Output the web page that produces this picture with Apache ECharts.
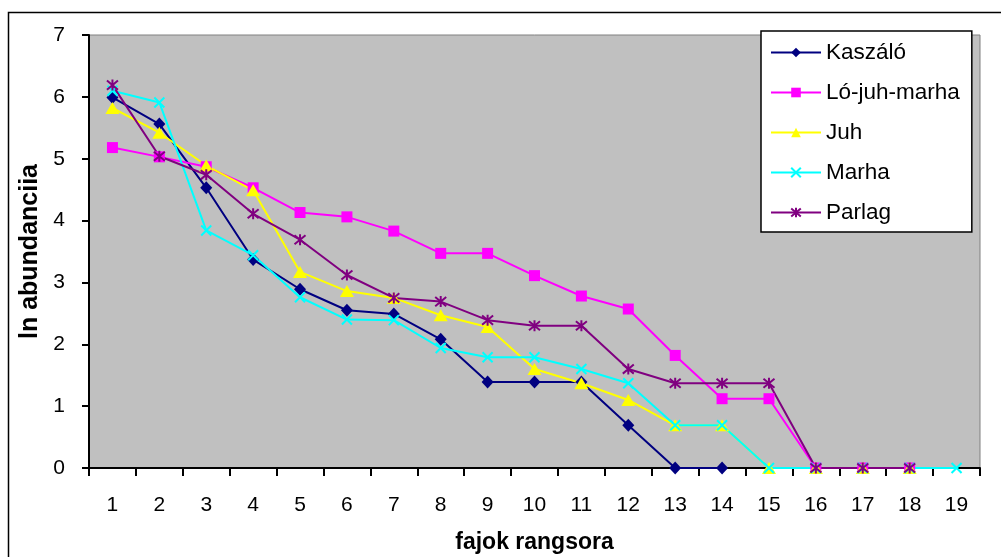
<!DOCTYPE html>
<html>
<head>
<meta charset="utf-8">
<script src="https://cdn.jsdelivr.net/npm/echarts@6/dist/echarts.min.js"></script>
<style>
  html, body { margin: 0; padding: 0; background: #ffffff; }
  #chart { width: 1001px; height: 557px; }
</style>
</head>
<body>
<div id="chart"></div>
<script>
// Rank of species (x) and log abundance for each grazing treatment
const ranks = ['1','2','3','4','5','6','7','8','9','10','11','12','13','14','15','16','17','18','19'];
const kaszalo    = [5.99, 5.56, 4.53, 3.37, 2.89, 2.55, 2.49, 2.08, 1.39, 1.39, 1.39, 0.69, 0, 0];
const loJuhMarha = [5.18, 5.03, 4.87, 4.53, 4.13, 4.06, 3.83, 3.47, 3.47, 3.11, 2.78, 2.57, 1.82, 1.12, 1.12, 0, 0, 0];
const juh        = [5.82, 5.42, 4.89, 4.49, 3.17, 2.86, 2.75, 2.47, 2.28, 1.60, 1.37, 1.10, 0.69, 0.69, 0, 0, 0, 0];
const marha      = [6.10, 5.91, 3.84, 3.44, 2.76, 2.40, 2.39, 1.94, 1.79, 1.79, 1.60, 1.37, 0.69, 0.69, 0, 0, 0, 0, 0];
const parlag     = [6.19, 5.04, 4.74, 4.11, 3.69, 3.12, 2.75, 2.69, 2.39, 2.30, 2.30, 1.60, 1.37, 1.37, 1.37, 0, 0, 0];
const yTicks = [0, 7, 1]; // min, max, interval

const FONT = '"Liberation Sans", Arial, sans-serif';
const crossPath = 'path://M0,0L10,10M10,0L0,10';
const starPath = 'path://M0,0L10,10M10,0L0,10M5,-1L5,11';

function lineSeries(name, data, color, symbol, size, strokeOnly) {
  return {
    name: name,
    type: 'line',
    data: data,
    symbol: symbol,
    symbolSize: size,
    showAllSymbol: true,
    lineStyle: { color: color, width: 2 },
    itemStyle: strokeOnly
      ? { color: color, borderColor: color, borderWidth: 2 }
      : { color: color, borderWidth: 0 },
    animation: false,
    z: 3
  };
}

const chart = echarts.init(document.getElementById('chart'), null, { renderer: 'canvas' });
chart.setOption({
  backgroundColor: '#ffffff',
  textStyle: { fontFamily: FONT },
  graphic: [{
    type: 'rect',
    shape: { x: 8.5, y: 12.5, width: 1100, height: 600 },
    style: { fill: 'none', stroke: '#000000', lineWidth: 1.5 },
    z: -10
  }],
  grid: {
    left: 89, top: 35, right: 21, bottom: 89,
    containLabel: false,
    outerBoundsMode: 'none',
    show: true,
    backgroundColor: '#C0C0C0',
    borderColor: '#808080',
    borderWidth: 1
  },
  legend: {
    orient: 'vertical',
    left: 761, top: 31,
    backgroundColor: '#ffffff',
    borderColor: '#000000',
    borderWidth: 1.5,
    borderRadius: 0,
    padding: [10, 12, 8, 9],
    itemWidth: 50,
    itemHeight: 12,
    itemGap: 17,
    textStyle: { fontFamily: FONT, fontSize: 22.5, color: '#000000', lineHeight: 22 },
    data: ['Kaszáló', 'Ló-juh-marha', 'Juh', 'Marha', 'Parlag']
  },
  xAxis: {
    type: 'category',
    data: ranks,
    boundaryGap: true,
    name: 'fajok rangsora',
    nameLocation: 'middle',
    nameGap: 63,
    nameTextStyle: { fontFamily: FONT, fontSize: 23, fontWeight: 'bold', color: '#000000' },
    axisLine: { lineStyle: { color: '#000000', width: 2 } },
    axisTick: { show: true, length: 8, lineStyle: { color: '#000000', width: 2 } },
    axisLabel: { fontFamily: FONT, fontSize: 21, color: '#000000', margin: 27, interval: 0 },
    splitLine: { show: false }
  },
  yAxis: {
    type: 'value',
    min: yTicks[0], max: yTicks[1], interval: yTicks[2],
    name: 'ln abundanciia',
    nameLocation: 'middle',
    nameGap: 46,
    nameTextStyle: { fontFamily: FONT, fontSize: 25, fontWeight: 'bold', color: '#000000' },
    axisLine: { show: true, lineStyle: { color: '#000000', width: 2 } },
    axisTick: { show: true, length: 7, lineStyle: { color: '#000000', width: 2 } },
    axisLabel: { fontFamily: FONT, fontSize: 21, color: '#000000', margin: 24 },
    splitLine: { show: false }
  },
  series: [
    lineSeries('Kaszáló', kaszalo, '#000080', 'diamond', [12, 13], false),
    lineSeries('Ló-juh-marha', loJuhMarha, '#FF00FF', 'rect', 11, false),
    lineSeries('Juh', juh, '#FFFF00', 'triangle', [14, 12], false),
    lineSeries('Marha', marha, '#00FFFF', crossPath, 10, true),
    lineSeries('Parlag', parlag, '#800080', starPath, 11, true)
  ]
});
</script>
</body>
</html>
